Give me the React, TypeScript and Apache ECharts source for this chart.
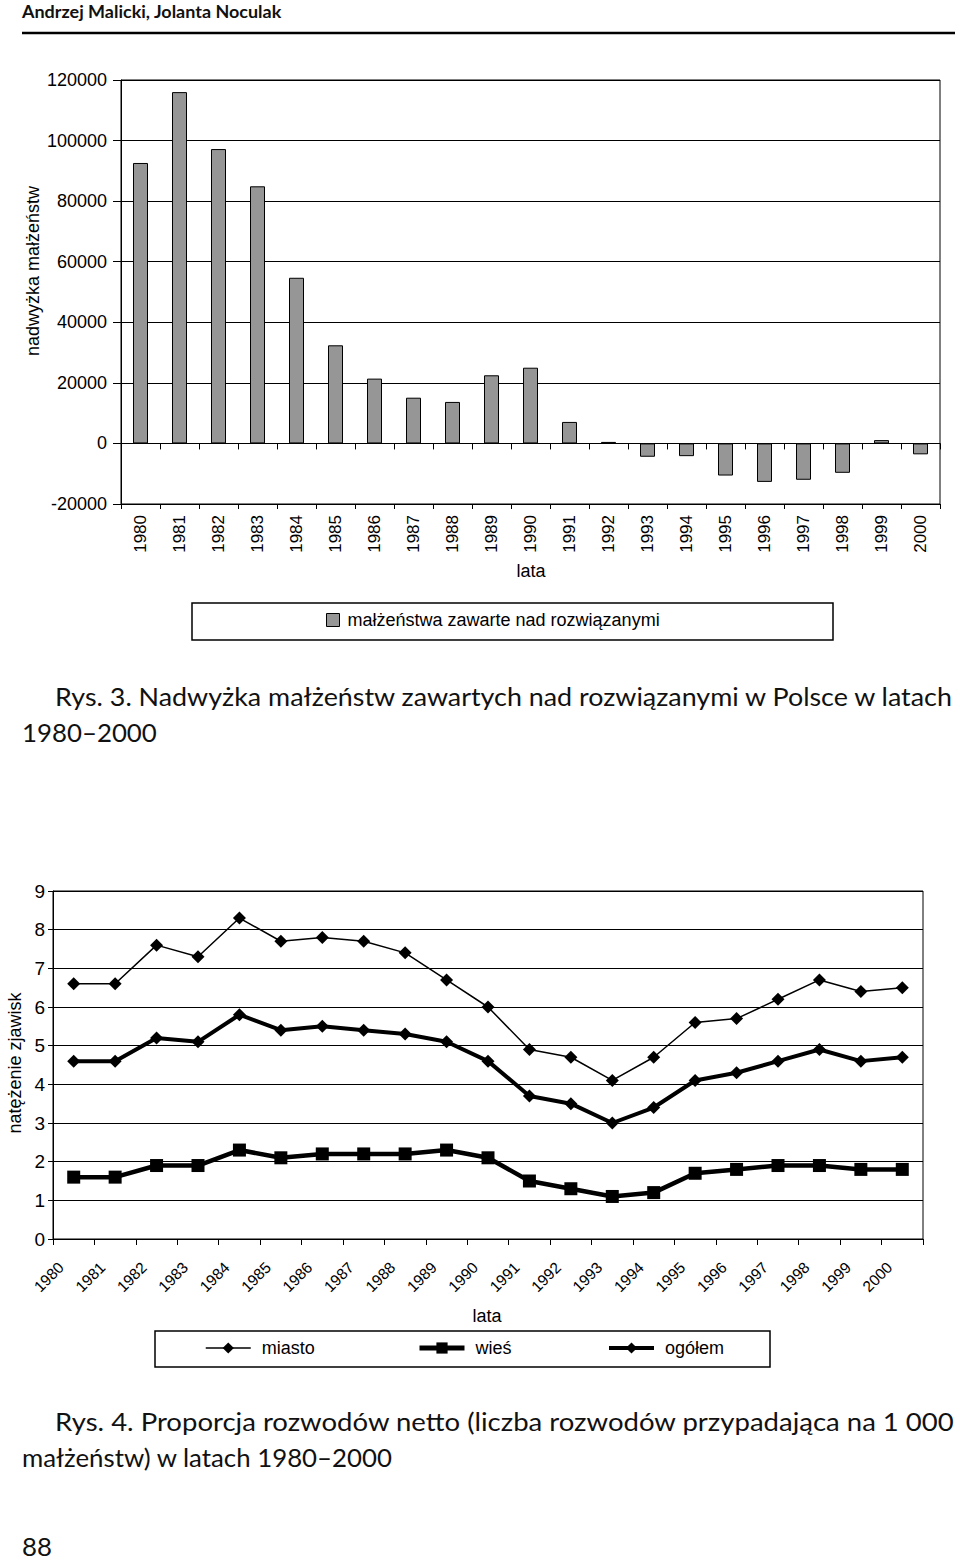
import React, { useEffect, useRef } from "react";
import * as echarts from "echarts";

const years = ["1980","1981","1982","1983","1984","1985","1986","1987","1988","1989","1990","1991","1992","1993","1994","1995","1996","1997","1998","1999","2000"];

// Rys. 3 – nadwyżka małżeństw zawartych nad rozwiązanymi
const surplus = [92600, 116000, 97200, 84900, 54700, 32400, 21400, 15100, 13700, 22500, 25000, 7100, 500, -4400, -4200, -10600, -12700, -12000, -9700, 1100, -3600];
const barTicks = [-20000, 0, 20000, 40000, 60000, 80000, 100000, 120000];

// Rys. 4 – proporcja rozwodów netto
const miasto = [6.6, 6.6, 7.6, 7.3, 8.3, 7.7, 7.8, 7.7, 7.4, 6.7, 6.0, 4.9, 4.7, 4.1, 4.7, 5.6, 5.7, 6.2, 6.7, 6.4, 6.5];
const wies = [1.6, 1.6, 1.9, 1.9, 2.3, 2.1, 2.2, 2.2, 2.2, 2.3, 2.1, 1.5, 1.3, 1.1, 1.2, 1.7, 1.8, 1.9, 1.9, 1.8, 1.8];
const ogolem = [4.6, 4.6, 5.2, 5.1, 5.8, 5.4, 5.5, 5.4, 5.3, 5.1, 4.6, 3.7, 3.5, 3.0, 3.4, 4.1, 4.3, 4.6, 4.9, 4.6, 4.7];

const seriesNames = ["miasto", "wieś", "ogółem"];
const barName = "małżeństwa zawarte nad rozwiązanymi";

const header = "Andrzej Malicki, Jolanta Noculak";
const cap3a = "Rys. 3. Nadwyżka małżeństw zawartych nad rozwiązanymi w Polsce w latach";
const cap3b = "1980–2000";
const cap4a = "Rys. 4. Proporcja rozwodów netto (liczba rozwodów przypadająca na 1 000";
const cap4b = "małżeństw) w latach 1980–2000";
const pageNo = "88";

const AX = "'Liberation Sans', Arial, sans-serif";
const SERIF = "Lato, 'Open Sans', sans-serif";

function measure(text: string, font: string): number {
  const c = document.createElement("canvas").getContext("2d");
  if (!c) return 1;
  c.font = font;
  return c.measureText(text).width;
}

function fitText(text: string, size: number, weight: string, left: number, cy: number, targetWidth: number) {
  const font = `${weight} ${size}px Lato`;
  const w = measure(text, font);
  const s = targetWidth / w;
  return {
    type: "text",
    x: left,
    y: cy,
    scaleX: s,
    style: {
      text,
      x: 0,
      y: 0,
      align: "left",
      verticalAlign: "middle",
      fontFamily: SERIF,
      fontSize: size,
      fontWeight: weight,
      fill: "#111",
    },
  };
}

export default function App() {
  const ref = useRef<HTMLDivElement>(null);
  useEffect(() => {
    if (!ref.current) return;
    const chart = echarts.init(ref.current, undefined, { renderer: "svg" });

    const legendText = { fontSize: 18, color: "#000", fontFamily: AX, padding: [0, 0, 0, 6] };

    const option: any = {
      animation: false,
      backgroundColor: "#fff",
      textStyle: { fontFamily: AX, color: "#000" },
      grid: [
        { left: 121, top: 80, width: 819, height: 424, show: true, borderColor: "#000", borderWidth: 1, backgroundColor: "transparent" },
        { left: 53, top: 891, width: 870, height: 348, show: true, borderColor: "#000", borderWidth: 1, backgroundColor: "transparent" },
      ],
      xAxis: [
        {
          type: "category", gridIndex: 0, data: years, position: "bottom",
          axisLine: { onZero: true, lineStyle: { color: "#000", width: 1 } },
          axisTick: { show: true, length: 6, lineStyle: { color: "#000" } },
          axisLabel: { show: false },
          splitLine: { show: false },
        },
        {
          type: "category", gridIndex: 0, data: years, position: "bottom",
          axisLine: { onZero: false, lineStyle: { color: "#000", width: 1 } },
          axisTick: { show: true, length: 5, lineStyle: { color: "#000" } },
          axisLabel: { show: true, rotate: 90, fontSize: 17, color: "#000", fontFamily: AX, margin: 11, interval: 0 },
          splitLine: { show: false },
        },
        {
          type: "category", gridIndex: 1, data: years, position: "bottom",
          axisLine: { onZero: false, lineStyle: { color: "#000", width: 1 } },
          axisTick: { show: true, length: 6, lineStyle: { color: "#000" } },
          axisLabel: { show: true, rotate: 45, fontSize: 15.5, color: "#000", fontFamily: AX, margin: 13, interval: 0, padding: [0, 18, 0, 0] },
          splitLine: { show: false },
        },
      ],
      yAxis: [
        {
          type: "value", gridIndex: 0, min: barTicks[0], max: barTicks[barTicks.length - 1], interval: 20000,
          axisLine: { show: true, lineStyle: { color: "#000", width: 1 } },
          axisTick: { show: true, length: 8, lineStyle: { color: "#000" } },
          axisLabel: { fontSize: 18, color: "#000", fontFamily: AX, margin: 14, formatter: (v: number) => String(v) },
          splitLine: { show: true, lineStyle: { color: "#000", width: 1 } },
        },
        {
          type: "value", gridIndex: 1, min: 0, max: 9, interval: 1,
          axisLine: { show: true, lineStyle: { color: "#000", width: 1 } },
          axisTick: { show: true, length: 5, lineStyle: { color: "#000" } },
          axisLabel: { fontSize: 19, color: "#000", fontFamily: AX, margin: 8 },
          splitLine: { show: true, lineStyle: { color: "#000", width: 1.2 } },
        },
      ],
      legend: [
        {
          data: [{ name: barName, icon: "rect" }], left: 326, top: 611, padding: 0, itemWidth: 13, itemHeight: 13,
          itemStyle: { borderColor: "#000", borderWidth: 1 },
          textStyle: { ...legendText, padding: [0, 0, 0, 3] },
          selectedMode: false,
        },
        { data: [seriesNames[0]], left: 205, top: 1339, padding: 0, itemWidth: 45, itemHeight: 14, lineStyle: { width: 1.5, color: "#000" }, textStyle: legendText, selectedMode: false },
        { data: [seriesNames[1]], left: 417, top: 1339, padding: 0, itemWidth: 45, itemHeight: 14, lineStyle: { width: 5, color: "#000" }, textStyle: legendText, selectedMode: false },
        { data: [seriesNames[2]], left: 607, top: 1339, padding: 0, itemWidth: 45, itemHeight: 14, lineStyle: { width: 4, color: "#000" }, textStyle: legendText, selectedMode: false },
      ],
      series: [
        {
          name: barName, type: "bar", xAxisIndex: 0, yAxisIndex: 0, data: surplus, barWidth: 15,
          itemStyle: { color: "#969696", borderColor: "#000", borderWidth: 1 },
        },
        {
          name: seriesNames[0], type: "line", xAxisIndex: 2, yAxisIndex: 1, data: miasto,
          symbol: "diamond", symbolSize: 13, showAllSymbol: true,
          lineStyle: { color: "#000", width: 1.5 }, itemStyle: { color: "#000" },
        },
        {
          name: seriesNames[1], type: "line", xAxisIndex: 2, yAxisIndex: 1, data: wies,
          symbol: "rect", symbolSize: 13, showAllSymbol: true,
          lineStyle: { color: "#000", width: 4.5 }, itemStyle: { color: "#000" },
        },
        {
          name: seriesNames[2], type: "line", xAxisIndex: 2, yAxisIndex: 1, data: ogolem,
          symbol: "diamond", symbolSize: 13, showAllSymbol: true,
          lineStyle: { color: "#000", width: 4 }, itemStyle: { color: "#000" },
        },
      ],
      graphic: [
        fitText(header, 17, "bold", 22, 11.5, 260),
        { type: "line", shape: { x1: 22, y1: 33, x2: 955, y2: 33 }, style: { stroke: "#000", lineWidth: 2.5 } },
        {
          type: "text", x: 33, y: 271, rotation: Math.PI / 2,
          style: { text: "nadwyżka małżeństw", fontSize: 18, fontFamily: AX, fill: "#000", align: "center", verticalAlign: "middle" },
        },
        { type: "text", x: 531, y: 571, style: { text: "lata", fontSize: 18, fontFamily: AX, fill: "#000", align: "center", verticalAlign: "middle" } },
        { type: "rect", shape: { x: 192, y: 603, width: 641, height: 37 }, style: { fill: "none", stroke: "#000", lineWidth: 1.5 } },
        fitText(cap3a, 25, "normal", 55, 696, 900),
        fitText(cap3b, 25, "normal", 22, 732, 135),
        {
          type: "text", x: 15, y: 1063, rotation: Math.PI / 2,
          style: { text: "natężenie zjawisk", fontSize: 18, fontFamily: AX, fill: "#000", align: "center", verticalAlign: "middle" },
        },
        { type: "text", x: 487, y: 1316, style: { text: "lata", fontSize: 18, fontFamily: AX, fill: "#000", align: "center", verticalAlign: "middle" } },
        { type: "rect", shape: { x: 155, y: 1331, width: 615, height: 36 }, style: { fill: "none", stroke: "#000", lineWidth: 1.5 } },
        fitText(cap4a, 25, "normal", 55, 1421, 900),
        fitText(cap4b, 25, "normal", 22, 1457, 371),
        fitText(pageNo, 25, "normal", 22, 1546, 30),
      ],
    };
    chart.setOption(option);
    return () => chart.dispose();
  }, []);
  return <div ref={ref} style={{ position: "absolute", left: 0, top: 0, width: 960, height: 1562 }} />;
}
